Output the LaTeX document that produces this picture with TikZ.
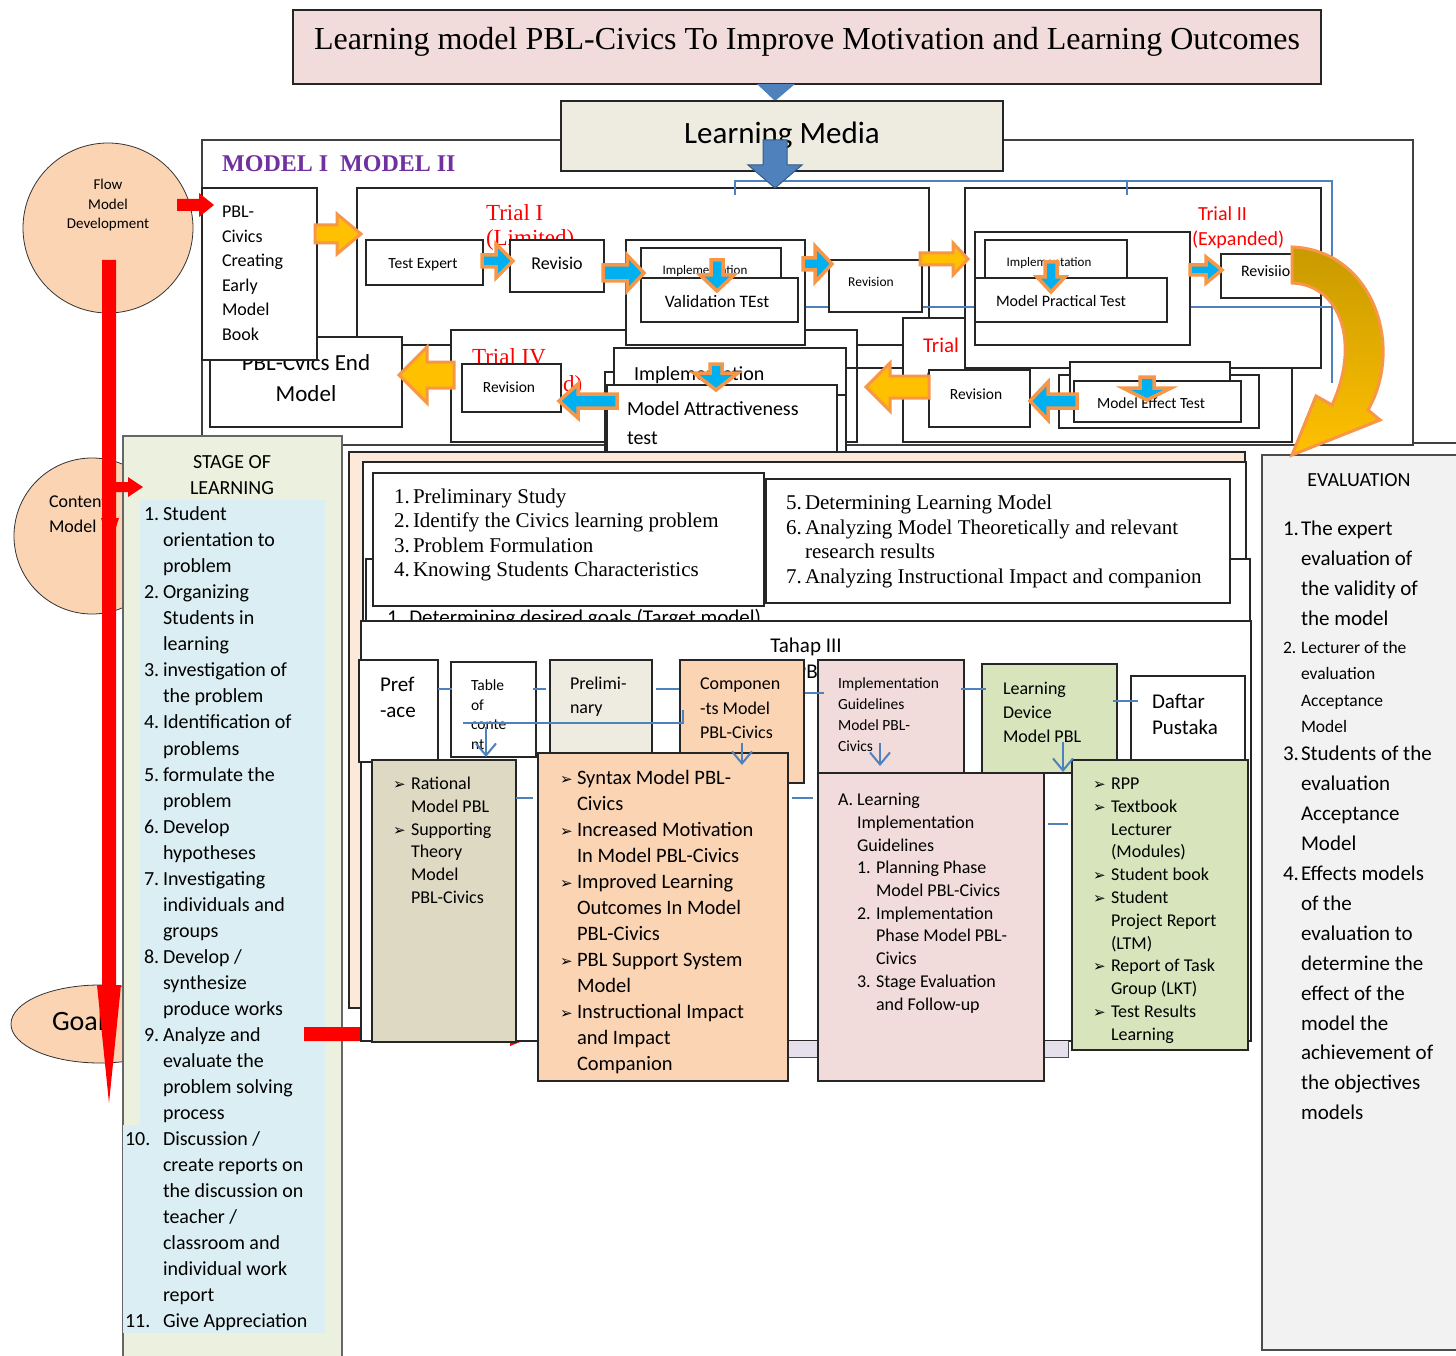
\documentclass[tikz,border=0pt]{standalone}
\usepackage{fontspec}
\setmainfont{Carlito}
\newfontfamily\tnr{Liberation Serif}
\newfontfamily\djv{DejaVu Sans}
\usetikzlibrary{arrows.meta,shapes.geometric}
\definecolor{pinkT}{HTML}{F2DCDB}
\definecolor{beige}{HTML}{EEECE1}
\definecolor{peach}{HTML}{FBD4B4}
\definecolor{peachL}{HTML}{FDE9D9}
\definecolor{stageG}{HTML}{EBF1DE}
\definecolor{lblue}{HTML}{DAEEF3}
\definecolor{oliveB}{HTML}{DDD9C3}
\definecolor{lgreen}{HTML}{D7E4BC}
\definecolor{evalG}{HTML}{F2F2F2}
\definecolor{bluel}{HTML}{4F81BD}
\definecolor{orangeO}{HTML}{F79646}
\definecolor{yell}{HTML}{FFC000}
\definecolor{oliveD}{HTML}{C89A00}
\definecolor{cyanA}{HTML}{00B0F0}
\definecolor{purp}{HTML}{7030A0}
\definecolor{lav}{HTML}{E5E0EC}
\newcommand\fs[1]{\fontsize{#1}{#1}\selectfont}
\newcommand\bul{{\djv\fontsize{15}{15}\selectfont\char"27A2}}
\newcounter{tln}
\newcommand\txtl[4][]{\stepcounter{tln}\node[ln,#1] (t\arabic{tln}) at (#2,#3) {#4};}
\newcommand\bx[6][]{\node[box,#1,anchor=north west,minimum width={#4-#2},minimum height={#5-#3}] (#6) at (#2,#3) {};}
\newcommand\lst[8][]{\foreach \n/\t [count=\i from 0] in {#8} {
  \node[ln,font=#1\fs{#7}] (#2n\i) at (#3,{#5+#6*\i}) {\n};
  \node[ln,font=#1\fs{#7}] (#2t\i) at (#4,{#5+#6*\i}) {\t};}}
% style, xstart, xtip, yc, shaft half, head half, head length (signed)
\newcommand\arrR[7]{\draw[#1] (#2,{#4-#5}) -- ({#3-(#7)},{#4-#5}) -- ({#3-(#7)},{#4-#6}) -- (#3,#4) -- ({#3-(#7)},{#4+#6}) -- ({#3-(#7)},{#4+#5}) -- (#2,{#4+#5}) -- cycle;}
% style, x, ystart, ytip, shaft half, head half, head length
\newcommand\arrD[7]{\draw[#1] ({#2-#5},#3) -- ({#2-#5},{#4-#7}) -- ({#2-#6},{#4-#7}) -- (#2,#4) -- ({#2+#6},{#4-#7}) -- ({#2+#5},{#4-#7}) -- ({#2+#5},#3) -- cycle;}
\begin{document}
\begin{tikzpicture}[x=1pt,y=-1pt,
 box/.style={draw=black!85,line width=1.2pt,fill=white,inner sep=0pt,outer sep=0pt},
 ln/.style={anchor=west,inner sep=0pt,outer sep=0pt,text height=0.7em,text depth=0.2em,yshift=-5pt},
 cl/.style={draw=bluel,line width=1.6pt},
 varr/.style={draw=bluel,line width=2pt,-{Straight Barb[length=12pt,width=20pt]}},
 oy/.style={fill=yell,draw=orangeO,line width=3pt},
 ob/.style={fill=cyanA,draw=orangeO,line width=3.5pt},
 rd/.style={fill=red,draw=none},
 bl/.style={fill=bluel,draw=bluel!70!black,line width=1pt}]
\useasboundingbox (0,0) rectangle (1456,1356);
\fill[white] (0,0) rectangle (1456,1356);

% ---------- outer model frame
\bx[draw=black!75]{202}{140}{1413}{445}{outer}
\draw[black!75,line width=1.2pt] (1413,443) -- (1456,443);

% ---------- title and learning media
\bx[fill=pinkT]{293}{10}{1321}{84}{titlebox}
\node[font=\tnr\fs{32},inner sep=0pt] (ttl) at (807,42) {Learning model PBL-Civics To Improve Motivation and Learning Outcomes};
\fill[bluel] (757,84) -- (795,84) -- (775,101) -- cycle;
\bx[fill=beige]{561}{101}{1003}{171}{lmbox}
\node[font=\fs{31},inner sep=0pt] (lmtxt) at (782,135) {Learning Media};
\node[font=\tnr\bfseries\fs{24},text=purp,anchor=base west,inner sep=0pt] (mdl) at (222,172) {MODEL I\ \ MODEL II};

% ---------- circles
\node[circle,draw=black!80,fill=peach,minimum size=170,inner sep=0pt,line width=0.8pt] (flow) at (108,228) {};
\txtl[anchor=center,font=\fs{15}]{108}{182}{Flow}
\txtl[anchor=center,font=\fs{15}]{108}{202}{Model}
\txtl[anchor=center,font=\fs{15}]{108}{221}{Development}
\node[circle,draw=black!80,fill=peach,minimum size=156,inner sep=0pt,line width=0.8pt] (content) at (92,536) {};
\txtl[font=\fs{18}]{49}{500}{Content}
\txtl[font=\fs{18}]{49}{525}{Model}
\node[ellipse,draw=black!80,fill=peach,minimum width=178,minimum height=78,inner sep=0pt,line width=0.8pt] (goal) at (100,1024) {};
\txtl[font=\fs{28}]{52}{1023}{Goal}

% ---------- trial frames
\bx{357}{188}{929}{345}{trialI}
\txtl[font=\tnr\fs{23},text=red]{486}{213}{Trial I}
\txtl[font=\tnr\fs{23},text=red]{486}{238}{(Limited)}
\bx{903}{318}{1292}{442}{trialIII}
\txtl[font=\fs{21},text=red]{923}{345}{Trial}
\txtl[font=\fs{21},text=red]{925}{378}{(Expanded)}
\bx{965}{188}{1321}{368}{trialII}
\txtl[font=\fs{20},text=red]{1198}{213}{Trial II}
\txtl[font=\fs{20},text=red]{1192}{238}{(Expanded)}
\bx{451}{330}{857}{442}{trialIV}
\txtl[font=\tnr\fs{23},text=red]{472}{357}{Trial IV}
\txtl[font=\tnr\fs{23},text=red]{494}{384}{(Limited)}
\draw[black!85,line width=1.2pt] (846,368) -- (903,368);

% ---------- blue connector lines (top)
\draw[cl] (735,195) -- (735,181) -- (1332,181) -- (1332,383);
\draw[cl] (1127,181) -- (1127,195);
\draw[cl] (805,307) -- (1332,307);

% ---------- PBL boxes
\bx{210}{337}{402}{427}{endm}
\txtl[anchor=center,font=\fs{23}]{306}{363}{PBL-Cvics End}
\txtl[anchor=center,font=\fs{23}]{306}{394}{Model}
\bx{202}{188}{317}{360}{pbl}
\lst{pb}{222}{222}{210}{24.6}{18}{/PBL-, /Civics, /Creating, /Early, /Model, /Book}

% ---------- Trial I inner
\bx{366}{240}{483}{285}{texp}
\txtl[anchor=center,font=\fs{15.5}]{423}{261}{Test Expert}
\bx{510}{240}{604}{292}{rev1}
\txtl[anchor=center,font=\fs{18}]{557}{262}{Revisio}
\bx{626}{240}{805}{345}{impg1}
\bx{641}{248}{781}{282}{imp1}
\txtl[anchor=center,font=\fs{13}]{705}{267}{Implementation}
\bx{641}{278}{798}{322}{val}
\txtl[anchor=center,font=\fs{17.5}]{717}{300}{Validation TEst}
\bx{829}{260}{922}{312}{rev2}
\txtl[anchor=center,font=\fs{13.5}]{871}{279}{Revision}

% ---------- Trial II inner
\bx{975}{232}{1190}{345}{impg2}
\bx{985}{240}{1127}{280}{imp2}
\txtl[anchor=center,font=\fs{13}]{1049}{259}{Implementation}
\bx{975}{278}{1167}{322}{mpt}
\txtl[anchor=center,font=\fs{16}]{1061}{299}{Model Practical Test}
\bx{1221}{254}{1321}{298}{rev3}
\txtl[font=\fs{16}]{1241}{269}{Revisiio}

% ---------- Trial III inner
\bx{929}{370}{1030}{427}{rev4}
\txtl[anchor=center,font=\fs{15.5}]{976}{392}{Revision}
\bx{1059}{375}{1259}{428}{impg3}
\bx{1070}{362}{1230}{400}{imp3}
\txtl[anchor=center,font=\fs{14}]{1150}{384}{Implementation}
\bx{1074}{381}{1241}{422}{met}
\txtl[anchor=center,font=\fs{15.5}]{1151}{401}{Model Effect Test}

% ---------- Trial IV inner
\bx{462}{364}{561}{412}{rev5}
\txtl[anchor=center,font=\fs{15.5}]{509}{385}{Revision}
\bx{605}{372}{846}{452}{impg4}
\bx{614}{348}{846}{395}{imp4}
\txtl[font=\fs{20}]{634}{373}{Implementation}
\bx{607}{385}{837}{452}{mat}
\txtl[font=\fs{20}]{627}{408}{Model Attractiveness}
\txtl[font=\fs{20}]{627}{437}{test}

% ---------- block arrows (top)
\arrR{oy}{315}{361}{234}{9}{20}{24}
\arrR{ob}{482}{513}{261}{6}{17}{17}
\arrR{ob}{603}{644}{273}{8}{18}{17}
\arrD{ob}{717}{260}{291}{6}{17}{16}
\arrR{ob}{803}{832}{264}{6}{18}{17}
\arrR{oy}{920}{968}{259}{6}{16}{15}
\arrD{ob}{1051}{262}{292}{6}{14}{15}
\arrR{ob}{1190}{1222}{270}{5}{13}{16}
\arrR{ob}{1077}{1030}{401}{7}{19}{-18}
\arrD{ob}{1147}{377}{400}{7}{24}{12}
\arrR{oy}{929}{866}{387}{11}{24}{-24}
\arrR{ob}{617}{559}{401}{7}{17}{-19}
\arrD{ob}{716}{364}{390}{6}{22}{17}
\arrR{oy}{454}{399}{375}{13}{28}{-28}
\arrD{bl}{775}{140}{188}{12}{27}{23}

% ---------- stage of learning
\bx[fill=stageG,draw=black!60]{123}{436}{342}{1362}{stage}
\fill[lblue] (140,500) rectangle (325,1125);
\fill[lblue] (123,1125) rectangle (325,1333);
\txtl[anchor=center,font=\fs{20}]{232}{461}{STAGE OF}
\txtl[anchor=center,font=\fs{20}]{232}{487}{LEARNING}
\lst{sg}{144}{163}{513}{26.06}{20}{1./Student, /orientation to, /problem, 2./Organizing, /Students in, /learning, 3./investigation of, /the problem, 4./Identification of, /problems, 5./formulate the, /problem, 6./Develop, /hypotheses, 7./Investigating, /individuals and, /groups, 8./{Develop /}, /synthesize, /produce works, 9./Analyze and, /evaluate the, /problem solving, /process}
\lst{sgb}{125}{163}{1138}{26.06}{20}{10./{Discussion /}, /create reports on, /the discussion on, /{teacher /}, /classroom and, /individual work, /report, 11./Give Appreciation}

% ---------- middle section
\bx[fill=peachL]{349}{452}{1245}{1008}{boxA}
\bx{363}{462}{1246}{622}{boxB}
\bx{366}{559}{1250}{622}{boxC}
\txtl[font=\fs{21}]{387}{617}{1. Determining desired goals (Target model)}
\bx{373}{473}{764}{606}{lst1}
\lst[\tnr]{pa}{394}{413}{496}{24.4}{21}{1./Preliminary Study, 2./Identify the Civics learning problem, 3./Problem Formulation, 4./Knowing Students Characteristics}
\bx{766}{479}{1230}{603}{lst2}
\lst[\tnr]{pc}{786}{805}{502}{24.6}{21}{5./Determining Learning Model, 6./Analyzing Model Theoretically and relevant, /research results, 7./Analyzing Instructional Impact and companion}
\arrR{rd}{304}{540}{1034}{7}{12}{30}
\bx{361}{621}{1251}{1041}{tahap}
\fill[lav] (780,1041) rectangle (1068,1057);
\draw[cyan!25,line width=1pt] (780,1043) -- (1068,1043);
\draw[black!70,line width=1pt] (1068,1041) -- (1068,1057) -- (780,1057);
\txtl[anchor=center,font=\fs{21}]{806}{645}{Tahap III}
\txtl[anchor=center,font=\fs{21}]{811}{671}{PBL}

\bx{359}{660}{438}{762}{pref}
\lst{pf}{380}{380}{684}{26}{21}{/Pref, /-ace}
\bx{451}{662}{536}{757}{toc}
\lst{tc}{471}{471}{683}{19.5}{15.5}{/Table, /of, /conte, /nt}
\bx[fill=beige]{550}{660}{652}{760}{prel}
\lst{pr}{570}{570}{682}{24}{18}{/Prelimi-, /nary}
\bx[fill=peach]{680}{660}{804}{783}{comp}
\lst{cp}{700}{700}{682}{24.5}{18}{/Componen, /-ts Model, /PBL-Civics}
\bx[fill=pinkT]{818}{660}{964}{773}{impgl}
\lst{ig}{838}{838}{681}{21}{15.5}{/Implementation, /Guidelines, /Model PBL-, /Civics}
\bx[fill=lgreen]{982}{664}{1117}{773}{ldev}
\lst{ld}{1003}{1003}{687}{24}{18}{/Learning, /Device, /Model PBL}
\bx{1131}{676}{1245}{760}{daftar}
\lst{df}{1152}{1152}{701}{26}{21}{/Daftar, /Pustaka}

\bx[fill=oliveB]{372}{760}{516}{1042}{rat}
\lst{ra}{393}{411}{782}{22.8}{18}{\bul/Rational, /Model PBL, \bul/Supporting, /Theory, /Model, /PBL-Civics}
\bx[fill=peach]{538}{753}{788}{1081}{syn}
\lst{sy}{560}{577}{777}{26}{20.5}{\bul/Syntax Model PBL-, /Civics, \bul/Increased Motivation, /In Model PBL-Civics, \bul/Improved Learning, /Outcomes In Model, /PBL-Civics, \bul/PBL Support System, /Model, \bul/Instructional Impact, /and Impact, /Companion}
\bx[fill=pinkT]{818}{773}{1044}{1081}{alearn}
\lst{al}{838}{857}{798}{22.8}{18}{A./Learning, /Implementation, /Guidelines}
\lst{am}{857}{876}{866}{22.8}{18}{1./Planning Phase, /Model PBL-Civics, 2./Implementation, /Phase Model PBL-, /Civics, 3./Stage Evaluation, /and Follow-up}
\bx[fill=lgreen]{1072}{760}{1248}{1050}{rpp}
\lst{rp}{1093}{1111}{782}{22.8}{18}{\bul/RPP, \bul/Textbook, /Lecturer, /(Modules), \bul/Student book, \bul/Student, /Project Report, /(LTM), \bul/Report of Task, /Group (LKT), \bul/Test Results, /Learning}

% blue connectors (middle)
\draw[cl] (438,689) -- (452,689);
\draw[cl] (533,689) -- (546,689);
\draw[cl] (656,689) -- (679,689);
\draw[cl] (805,693) -- (824,693);
\draw[cl] (961,689) -- (986,689);
\draw[cl] (1113,701) -- (1138,701);
\draw[cl] (516,798) -- (533,798);
\draw[cl] (792,798) -- (813,798);
\draw[cl] (1048,824) -- (1068,824);
\draw[cl] (683,710) -- (683,723) -- (463,723);
\draw[varr] (486,727) -- (486,757);
\draw[varr] (742,743) -- (742,765);
\draw[varr] (880,743) -- (880,766);
\draw[varr] (1063,742) -- (1063,772);

% ---------- evaluation
\bx[fill=evalG,draw=black!70]{1262}{455}{1470}{1350}{evalbox}
\txtl[anchor=center,font=\fs{20}]{1359}{479}{EVALUATION}
\lst{ea}{1283}{1301}{528}{30}{21}{1./The expert, /evaluation of, /the validity of, /the model}
\lst{eb}{1283}{1301}{646}{26.3}{17.5}{2./Lecturer of the, /evaluation, /Acceptance, /Model}
\lst{ec}{1283}{1301}{753}{30}{21}{3./Students of the, /evaluation, /Acceptance, /Model}
\lst{ed}{1283}{1301}{873}{29.9}{21}{4./Effects models, /of the, /evaluation to, /determine the, /effect of the, /model the, /achievement of, /the objectives, /models}

% ---------- curved arrow to evaluation
\path[draw=orangeO,line width=3pt,top color=oliveD,bottom color=yell,line join=miter]
 (1292,247) .. controls (1372,250) and (1405,345) .. (1368,410) -- (1380,420) -- (1292,455)
 -- (1316,396) -- (1332,405) .. controls (1360,345) and (1342,285) .. (1292,283) -- cycle;

% ---------- red arrows
\arrR{rd}{177}{214}{205}{6}{12}{15}
\arrD{rd}{109}{260}{1103}{7}{12}{118}
\arrR{rd}{102}{143}{487}{5}{10}{15}
\fill[red] (101,518) -- (119,518) -- (110,546) -- cycle;
\end{tikzpicture}
\end{document}
